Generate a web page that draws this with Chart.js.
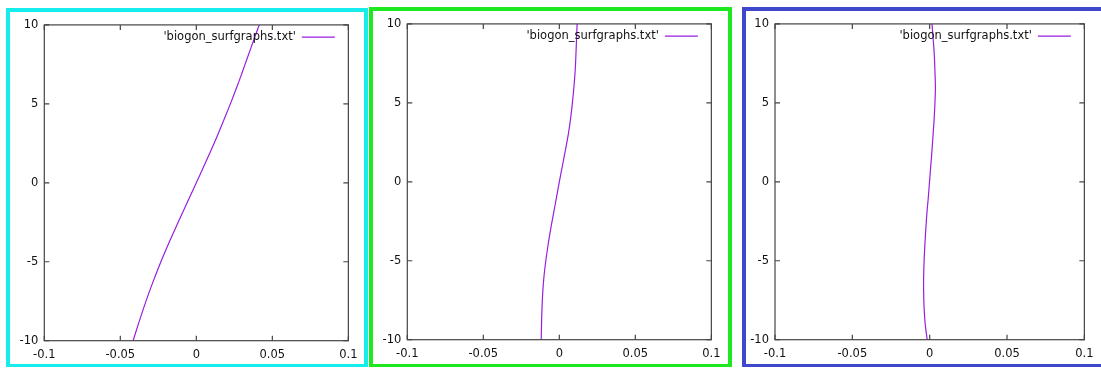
<!DOCTYPE html>
<html>
<head>
<meta charset="utf-8">
<script src="https://cdn.jsdelivr.net/npm/chart.js@4"></script>
<style>
  html, body { margin:0; padding:0; background:#fff; }
  body { width:1101px; height:368px; position:relative; overflow:hidden; }
  .frame { position:absolute; box-sizing:border-box; }
  canvas { position:absolute; }
</style>
</head>
<body>
<div class="frame" style="left:6px;top:8px;width:362px;height:359px;border:4px solid #17ecec;border-bottom-width:3px"></div>
<div class="frame" style="left:369px;top:7px;width:363px;height:360px;border:4px solid #1ee81e;border-bottom-width:3px"></div>
<div class="frame" style="left:742px;top:7px;width:370px;height:360px;border:4px solid #3f48cc;border-bottom-width:3px"></div>

<canvas id="plotA" width="355" height="352" style="left:10px;top:12px"></canvas>
<canvas id="plotB" width="355" height="353" style="left:373px;top:11px"></canvas>
<canvas id="plotC" width="355" height="353" style="left:746px;top:11px"></canvas>

<script>
(function(){
  // sample heights (y) shared by all three traces
  const yLevels = [-10,-9,-8,-7,-6,-5,-4,-3,-2,-1,0,1,2,3,4,5,6,7,8,9,10];

  // x position of the curve at each y level, one list per plot
  const xPlotA = [-0.0416,-0.0383,-0.0349,-0.0313,-0.0274,-0.0233,-0.0189,-0.0143,-0.0096,-0.0048,0,
                  0.0047,0.0094,0.0139,0.0182,0.0224,0.0264,0.0302,0.0339,0.0376,0.0414];
  const xPlotB = [-0.0119,-0.0117,-0.0114,-0.0109,-0.0101,-0.0089,-0.0074,-0.0057,-0.0038,-0.0019,0,
                  0.0020,0.0040,0.0059,0.0074,0.0086,0.0096,0.0104,0.0109,0.0113,0.0117];
  const xPlotC = [-0.0016,-0.0029,-0.0036,-0.0039,-0.0039,-0.0036,-0.0031,-0.0025,-0.0018,-0.0009,-0.0001,
                  0.0007,0.0015,0.0022,0.0029,0.0034,0.0037,0.0034,0.0030,0.0023,0.0015];

  const xTicks = [-0.1,-0.05,0,0.05,0.1];
  const yTicks = [-10,-5,0,5,10];
  const seriesLabel = "'biogon_surfgraphs.txt'";

  const CURVE = '#9a1ee0';
  const AXIS = '#444';
  const FONT = 'DejaVu Sans';
  const FONT_SIZE = 11.5;

  function fmt(v){ return String(Math.round(v * 100) / 100); }

  // gnuplot-like box: full border, ticks pointing inward on all four sides, key in the top-right
  const gnuplotBox = {
    id: 'gnuplotBox',
    afterDraw(chart){
      const ctx = chart.ctx, a = chart.chartArea;
      const sx = chart.scales.x, sy = chart.scales.y;
      const len = 5;
      ctx.save();
      ctx.strokeStyle = AXIS;
      ctx.lineWidth = 1.2;
      ctx.strokeRect(a.left, a.top, a.right - a.left, a.bottom - a.top);
      ctx.beginPath();
      xTicks.forEach(v => {
        const px = sx.getPixelForValue(v);
        ctx.moveTo(px, a.bottom); ctx.lineTo(px, a.bottom - len);
        ctx.moveTo(px, a.top); ctx.lineTo(px, a.top + len);
      });
      yTicks.forEach(v => {
        const py = sy.getPixelForValue(v);
        ctx.moveTo(a.left, py); ctx.lineTo(a.left + len, py);
        ctx.moveTo(a.right, py); ctx.lineTo(a.right - len, py);
      });
      ctx.stroke();

      const ds = chart.data.datasets[0];
      const ky = a.top + 12.3;
      const x1 = a.right - 13.5, x0 = x1 - 33;
      ctx.strokeStyle = ds.borderColor;
      ctx.lineWidth = 1.2;
      ctx.beginPath(); ctx.moveTo(x0, ky); ctx.lineTo(x1, ky); ctx.stroke();
      ctx.fillStyle = '#111';
      ctx.font = FONT_SIZE + 'px "' + FONT + '"';
      ctx.textAlign = 'right';
      ctx.textBaseline = 'middle';
      ctx.fillText(ds.label, x0 - 6, ky);
      ctx.restore();
    }
  };

  function makePlot(id, xs, pad){
    const pts = yLevels.map((y, i) => ({ x: xs[i], y }));
    return new Chart(document.getElementById(id), {
      type: 'line',
      data: { datasets: [{ label: seriesLabel, data: pts, borderColor: CURVE, borderWidth: 1.2,
                           pointRadius: 0, tension: 0.4, fill: false }] },
      options: {
        responsive: false, animation: false, events: [],
        layout: { padding: { top: pad.top, right: pad.right, left: 0, bottom: 0 } },
        plugins: { legend: { display: false }, tooltip: { enabled: false } },
        scales: {
          x: {
            type: 'linear', min: -0.1, max: 0.1,
            afterBuildTicks: s => { s.ticks = xTicks.map(v => ({ value: v })); },
            afterFit: s => { s.height = pad.axisH; },
            grid: { display: false, drawTicks: false }, border: { display: false },
            ticks: { padding: 7.5, color: '#111', font: { family: FONT, size: FONT_SIZE },
                     maxRotation: 0, autoSkip: false, callback: v => fmt(v) }
          },
          y: {
            type: 'linear', min: -10, max: 10,
            afterBuildTicks: s => { s.ticks = yTicks.map(v => ({ value: v })); },
            afterFit: s => { s.width = pad.axisW; },
            grid: { display: false, drawTicks: false }, border: { display: false },
            ticks: { padding: 6, color: '#111', font: { family: FONT, size: FONT_SIZE },
                     autoSkip: false, callback: v => fmt(v) }
          }
        }
      },
      plugins: [gnuplotBox]
    });
  }

  makePlot('plotA', xPlotA, { axisW: 34.3, top: 10.7, right: 16, axisH: 23.3 });
  makePlot('plotB', xPlotB, { axisW: 34.3, top: 11.7, right: 16.3, axisH: 24.3 });
  makePlot('plotC', xPlotC, { axisW: 29, top: 11.7, right: 13.7, axisH: 24.3 });
})();
</script>
</body>
</html>
